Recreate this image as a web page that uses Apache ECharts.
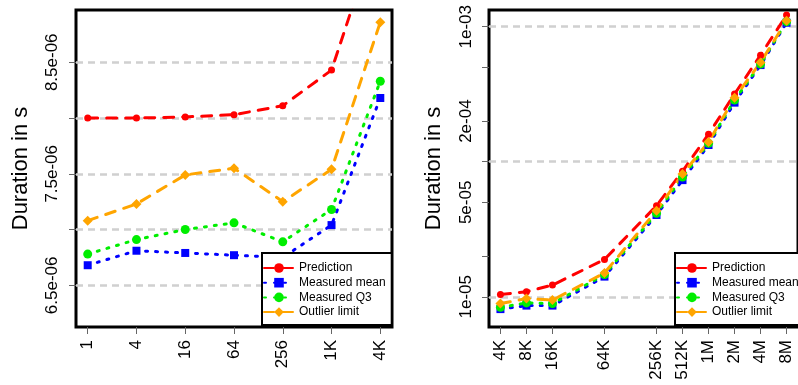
<!DOCTYPE html>
<html>
<head>
<meta charset="utf-8">
<script src="https://cdn.jsdelivr.net/npm/echarts@6/dist/echarts.min.js"></script>
<style>
  html, body { margin: 0; padding: 0; background: #fff; }
  #chart { width: 798px; height: 385px; }
</style>
</head>
<body>
<div id="chart"></div>
<script>
// left panel: small message sizes
const leftSizes = [1, 4, 16, 64, 256, 1024, 4096]
const leftSizeLabels = ['1', '4', '16', '64', '256', '1K', '4K']
const leftPrediction = [8.0e-6, 8.0e-6, 8.01e-6, 8.03e-6, 8.11e-6, 8.43e-6, 9.75e-6]
const leftMean = [6.68e-6, 6.81e-6, 6.79e-6, 6.77e-6, 6.75e-6, 7.04e-6, 8.18e-6]
const leftQ3 = [6.78e-6, 6.91e-6, 7.0e-6, 7.06e-6, 6.89e-6, 7.18e-6, 8.33e-6]
const leftOutlier = [7.08e-6, 7.23e-6, 7.49e-6, 7.55e-6, 7.25e-6, 7.54e-6, 8.86e-6]
const leftYTicks = [6.5e-6, 7.0e-6, 7.5e-6, 8.0e-6, 8.5e-6]
const leftYLabelValues = [6.5e-6, 7.5e-6, 8.5e-6]
const leftYLabels = ['6.5e-06', '7.5e-06', '8.5e-06']

// right panel: large message sizes
const rightSizes = [4096, 8192, 16384, 65536, 262144, 524288, 1048576, 2097152, 4194304, 8388608]
const rightSizeLabels = ['4K', '8K', '16K', '64K', '256K', '512K', '1M', '2M', '4M', '8M']
const rightPrediction = [1.04e-5, 1.09e-5, 1.22e-5, 1.89e-5, 4.72e-5, 8.5e-5, 1.6e-4, 3.17e-4, 6.16e-4, 1.22e-3]
const rightMean = [8.1e-6, 8.6e-6, 8.6e-6, 1.41e-5, 4.03e-5, 7.31e-5, 1.33e-4, 2.74e-4, 5.2e-4, 1.07e-3]
const rightQ3 = [8.35e-6, 9.0e-6, 8.9e-6, 1.46e-5, 4.15e-5, 7.7e-5, 1.37e-4, 2.86e-4, 5.3e-4, 1.09e-3]
const rightOutlier = [8.9e-6, 9.7e-6, 9.45e-6, 1.5e-5, 4.34e-5, 8.11e-5, 1.4e-4, 2.98e-4, 5.44e-4, 1.107e-3]
const rightYTicks = [1e-5, 2e-5, 5e-5, 1e-4, 2e-4, 5e-4, 1e-3]
const rightYGrid = [1e-5, 1e-4, 1e-3]
const rightYLabelValues = [1e-5, 5e-5, 2e-4, 1e-3]
const rightYLabels = ['1e-05', '5e-05', '2e-04', '1e-03']

const FONT = 'Liberation Sans, Arial, sans-serif'

function lookup(values, labels, log) {
  return function (v) {
    for (let i = 0; i < values.length; i++) {
      const a = log ? Math.log(v) : v
      const b = log ? Math.log(values[i]) : values[i]
      if (Math.abs(a - b) < (log ? 1e-6 : values[i] * 1e-6)) return labels[i]
    }
    return ''
  }
}

function pair(xs, ys) {
  return xs.map((x, i) => [x, ys[i]])
}

const tickStyle = { show: true, length: 7, lineStyle: { color: '#666', width: 1 } }
const gridLine = { show: true, lineStyle: { color: '#d0d0d0', width: 2.5, type: [7, 5] } }
const nameStyle = { fontSize: 22, color: '#000', fontFamily: FONT }

function makeSeries(grid, xs, pred, mean, q3, outl) {
  const y = grid === 0 ? 0 : 1
  return [
    {
      name: 'Prediction', type: 'line', xAxisIndex: grid, yAxisIndex: y,
      data: pair(xs, pred), symbol: 'circle', symbolSize: 7,
      itemStyle: { color: '#ff0000' },
      lineStyle: { color: '#ff0000', width: 3, type: [10, 9], cap: 'round' }
    },
    {
      name: 'Measured mean', type: 'line', xAxisIndex: grid, yAxisIndex: y,
      data: pair(xs, mean), symbol: 'rect', symbolSize: 8,
      itemStyle: { color: '#0000ff' },
      lineStyle: { color: '#0000ff', width: 3, type: [2, 8], cap: 'round' }
    },
    {
      name: 'Measured Q3', type: 'line', xAxisIndex: grid, yAxisIndex: y,
      data: pair(xs, q3), symbol: 'circle', symbolSize: 9,
      itemStyle: { color: '#00ee00' },
      lineStyle: { color: '#00ee00', width: 3, type: [2, 8], cap: 'round' }
    },
    {
      name: 'Outlier limit', type: 'line', xAxisIndex: grid, yAxisIndex: y,
      data: pair(xs, outl), symbol: 'diamond', symbolSize: 10,
      itemStyle: { color: '#ffa500' },
      lineStyle: { color: '#ffa500', width: 3, type: [10, 9], cap: 'round' }
    }
  ]
}

function makeLegend(left) {
  return {
    left: left, top: 253, orient: 'vertical',
    backgroundColor: '#fff', borderColor: '#000', borderWidth: 2,
    padding: [9, 6, 7, 1], itemWidth: 30, itemHeight: 12, itemGap: 2.7,
    textStyle: { fontSize: 12, color: '#000', fontFamily: FONT },
    data: ['Prediction', 'Measured mean', 'Measured Q3', 'Outlier limit']
  }
}

const chart = echarts.init(document.getElementById('chart'))
chart.setOption({
  animation: false,
  grid: [
    { left: 76, top: 10, width: 316, height: 317, show: true, borderColor: '#000', borderWidth: 3 },
    { left: 489, top: 10, right: -8, height: 317, show: true, borderColor: '#000', borderWidth: 3 }
  ],
  xAxis: [
    {
      type: 'log', logBase: 2, gridIndex: 0,
      min: Math.pow(2, -0.48), max: Math.pow(2, 12.48),
      axisLine: { show: false }, splitLine: { show: false },
      axisTick: Object.assign({ customValues: leftSizes }, tickStyle),
      axisLabel: {
        customValues: leftSizes, rotate: 90, margin: 13, fontSize: 17, color: '#000', fontFamily: FONT,
        formatter: lookup(leftSizes, leftSizeLabels, true)
      }
    },
    {
      type: 'log', logBase: 2, gridIndex: 1,
      min: Math.pow(2, 11.56), max: Math.pow(2, 23.44),
      axisLine: { show: false }, splitLine: { show: false },
      axisTick: Object.assign({ customValues: rightSizes }, tickStyle),
      axisLabel: {
        customValues: rightSizes, rotate: 90, margin: 13, fontSize: 17, color: '#000', fontFamily: FONT,
        formatter: lookup(rightSizes, rightSizeLabels, true)
      }
    }
  ],
  yAxis: [
    {
      type: 'value', gridIndex: 0, min: 6.126e-6, max: 8.969e-6,
      name: 'Duration in s', nameLocation: 'middle', nameGap: 44, nameTextStyle: nameStyle,
      axisLine: { show: false }, splitLine: gridLine,
      axisTick: Object.assign({ customValues: leftYTicks }, tickStyle),
      axisLabel: {
        customValues: leftYLabelValues, rotate: 90, margin: 15, fontSize: 17, color: '#000', fontFamily: FONT,
        formatter: lookup(leftYLabelValues, leftYLabels, false)
      }
    },
    {
      type: 'log', logBase: 10, gridIndex: 1, min: 5.97e-6, max: 1.33e-3,
      name: 'Duration in s', nameLocation: 'middle', nameGap: 44, nameTextStyle: nameStyle,
      axisLine: { show: false }, splitLine: gridLine,
      axisTick: { show: false, customValues: rightYGrid },
      axisLabel: { show: false }
    },
    {
      type: 'log', logBase: 10, gridIndex: 1, min: 5.97e-6, max: 1.33e-3, position: 'left',
      axisLine: { show: false }, splitLine: { show: false },
      axisTick: Object.assign({ customValues: rightYTicks }, tickStyle),
      axisLabel: {
        customValues: rightYLabelValues, rotate: 90, margin: 14, fontSize: 17, color: '#000', fontFamily: FONT,
        formatter: lookup(rightYLabelValues, rightYLabels, true)
      }
    }
  ],
  legend: [makeLegend(262), makeLegend(675)],
  series: makeSeries(0, leftSizes, leftPrediction, leftMean, leftQ3, leftOutlier)
    .concat(makeSeries(1, rightSizes, rightPrediction, rightMean, rightQ3, rightOutlier))
})
</script>
</body>
</html>
